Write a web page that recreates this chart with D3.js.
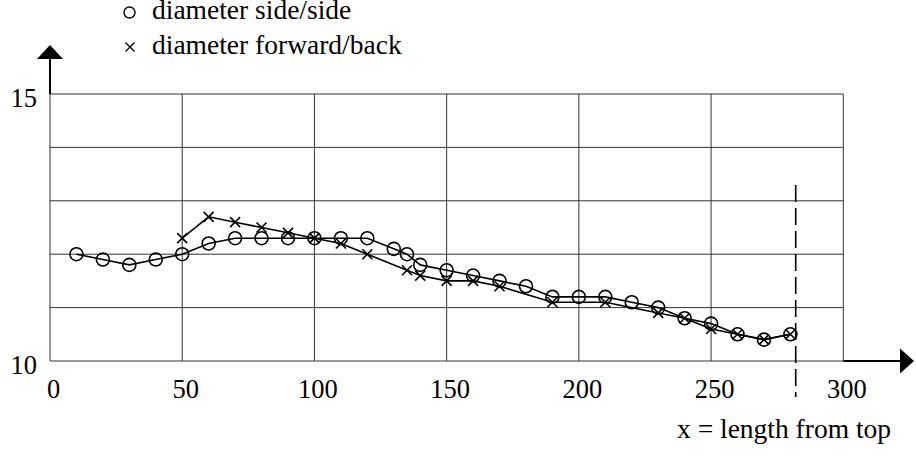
<!DOCTYPE html>
<html>
<head>
<meta charset="utf-8">
<script src="https://cdn.jsdelivr.net/npm/d3@7"></script>
<style>
  svg text { font-family: "Liberation Serif" !important; }
</style>
</head>
<body style="margin:0">
<svg id="chart" width="916" height="458" style="display:block" font-family="Liberation Serif"></svg>
<script>
// ---- data ----
const xTicks = [0, 50, 100, 150, 200, 250, 300];
const yTicks = [10, 15];
const yGrid = [10, 11, 12, 13, 14, 15];

const sideX = [10, 20, 30, 40, 50, 60, 70, 80, 90, 100, 110, 120, 130, 135, 140, 150, 160, 170, 180, 190, 200, 210, 220, 230, 240, 250, 260, 270, 280];
const sideY = [12.0, 11.9, 11.8, 11.9, 12.0, 12.2, 12.3, 12.3, 12.3, 12.3, 12.3, 12.3, 12.1, 12.0, 11.8, 11.7, 11.6, 11.5, 11.4, 11.2, 11.2, 11.2, 11.1, 11.0, 10.8, 10.7, 10.5, 10.4, 10.5];

const fwdX = [50, 60, 70, 80, 90, 100, 110, 120, 135, 140, 150, 160, 170, 190, 210, 230, 240, 250, 260, 270, 280];
const fwdY = [12.3, 12.7, 12.6, 12.5, 12.4, 12.3, 12.2, 12.0, 11.7, 11.6, 11.5, 11.5, 11.4, 11.1, 11.1, 10.9, 10.8, 10.6, 10.5, 10.4, 10.5];

const markerLine = 282;
const legendLabels = ["diameter side/side", "diameter forward/back"];
const xTitle = "x = length from top";

const FONT = `"Liberation Serif"`;

// ---- chart ----
const svg = d3.select("#chart");
const x = d3.scaleLinear().domain([0, 300]).range([50, 843.3]);
const y = d3.scaleLinear().domain([10, 15]).range([361, 94]);

// grid
const grid = svg.append("g").attr("stroke", "#333").attr("stroke-width", 1);
grid.selectAll("line.v").data(xTicks).join("line")
  .attr("x1", d => x(d)).attr("x2", d => x(d))
  .attr("y1", y(10)).attr("y2", y(15));
grid.selectAll("line.h").data(yGrid).join("line")
  .attr("x1", x(0)).attr("x2", x(300))
  .attr("y1", d => y(d)).attr("y2", d => y(d));

// axis extensions with arrows
svg.append("line").attr("x1", x(0)).attr("x2", x(0)).attr("y1", y(15)).attr("y2", 58)
  .attr("stroke", "#000").attr("stroke-width", 2);
svg.append("path").attr("d", `M${x(0)},45 L${x(0)-13},59 L${x(0)+13},59 Z`).attr("fill", "#000");
svg.append("line").attr("x1", x(300)).attr("x2", 901).attr("y1", y(10)).attr("y2", y(10))
  .attr("stroke", "#000").attr("stroke-width", 2);
svg.append("path").attr("d", `M914,${y(10)} L900,${y(10)-12.5} L900,${y(10)+12.5} Z`).attr("fill", "#000");

// dashed vertical marker
svg.append("line").attr("x1", x(markerLine)).attr("x2", x(markerLine))
  .attr("y1", 185).attr("y2", 397)
  .attr("stroke", "#000").attr("stroke-width", 1.6).attr("stroke-dasharray", "17,6");

// tick labels via axes
const xAxis = d3.axisBottom(x).tickValues(xTicks).tickSize(0).tickFormat(d3.format("d"));
const gx = svg.append("g").attr("transform", `translate(3,0)`).call(xAxis);
gx.attr("font-family", null).attr("font-size", null);
gx.select(".domain").remove();
gx.selectAll("text").attr("y", 398).attr("dy", 0).attr("fill", "#000")
  .style("font-family", FONT).style("font-size", "26.5px");

const yAxis = d3.axisLeft(y).tickValues(yTicks).tickSize(0).tickFormat(d3.format("d"));
const gy = svg.append("g").call(yAxis);
gy.attr("font-family", null).attr("font-size", null);
gy.select(".domain").remove();
gy.selectAll("text").attr("x", 37).attr("dy", 12).attr("fill", "#000")
  .style("font-family", FONT).style("font-size", "26.5px");

// series
const line = d3.line().x(d => x(d[0])).y(d => y(d[1]));
const sideData = sideX.map((v, i) => [v, sideY[i]]);
const fwdData = fwdX.map((v, i) => [v, fwdY[i]]);

svg.append("path").datum(fwdData).attr("d", line)
  .attr("fill", "none").attr("stroke", "#000").attr("stroke-width", 1.6);
svg.append("path").datum(sideData).attr("d", line)
  .attr("fill", "none").attr("stroke", "#000").attr("stroke-width", 1.6);

const crossPath = (cx, cy, s) => `M${cx-s},${cy-s}L${cx+s},${cy+s}M${cx-s},${cy+s}L${cx+s},${cy-s}`;
svg.append("g").selectAll("path").data(fwdData).join("path")
  .attr("d", d => crossPath(x(d[0]), y(d[1]), 5))
  .attr("stroke", "#000").attr("stroke-width", 1.6).attr("fill", "none");
svg.append("g").selectAll("circle").data(sideData).join("circle")
  .attr("cx", d => x(d[0])).attr("cy", d => y(d[1])).attr("r", 6.5)
  .attr("stroke", "#000").attr("stroke-width", 1.6).attr("fill", "none");

// legend
svg.append("circle").attr("cx", 129.5).attr("cy", 12.5).attr("r", 5.5)
  .attr("fill", "none").attr("stroke", "#000").attr("stroke-width", 1.4);
svg.append("text").attr("x", 152).attr("y", 19)
  .style("font-family", FONT).style("font-size", "27.5px").text(legendLabels[0]);
svg.append("path").attr("d", crossPath(130, 47, 4.5)).attr("stroke", "#000").attr("stroke-width", 1.4);
svg.append("text").attr("x", 152).attr("y", 54)
  .style("font-family", FONT).style("font-size", "27.5px").text(legendLabels[1]);

// axis title
svg.append("text").attr("x", 677).attr("y", 438)
  .style("font-family", FONT).style("font-size", "27.5px").text(xTitle);
</script>
</body>
</html>
